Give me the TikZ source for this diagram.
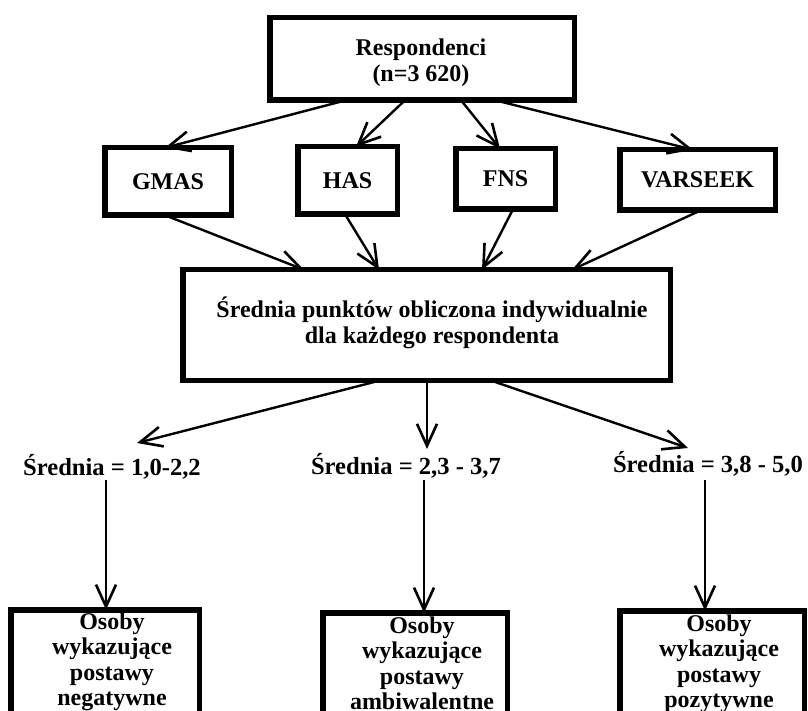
\documentclass[tikz,border=0pt]{standalone}
\usepackage{fontspec}
\setmainfont{Liberation Serif}
\usetikzlibrary{arrows.meta}

% multi-line centred text whose baseline is that of its first line
\newcommand\mlines[1]{\begin{tabular}[t]{@{}c@{}}#1\end{tabular}}

\tikzset{
  boxed/.style={draw, line width=5.5pt, inner sep=0pt, outer sep=0pt,
    font=\fontsize{24}{26}\selectfont\bfseries},
  txt/.style={inner sep=0pt, outer sep=0pt, anchor=base,
    font=\fontsize{24}{26}\selectfont\bfseries},
  rangetxt/.style={txt, font=\fontsize{24.6}{26}\selectfont\bfseries},
  tallt/.style={txt, font=\fontsize{24}{25.5}\selectfont\bfseries},
  conn/.style={line width=2.4pt,
    -{Straight Barb[length=22pt, width=20pt, line width=2.6pt]}},
}

\begin{document}
\begin{tikzpicture}[x=1pt, y=-1pt]
  \fill[white] (0,0) rectangle (808,711);
  \clip (0,0) rectangle (808,711);

  % source box
  \node[boxed, minimum width=304.5pt, minimum height=82.5pt] (top) at (422,59) {};
  \node[txt] (topt) at (421,56) {\mlines{Respondenci\\(n=3 620)}};

  % questionnaires
  \node[boxed, minimum width=126.5pt, minimum height=67.5pt] (gmas) at (168,181.5) {GMAS};
  \node[boxed, minimum width=99.5pt, minimum height=67.5pt] (has) at (347.5,180.5) {HAS};
  \node[boxed, minimum width=99.5pt, minimum height=60.5pt] (fns) at (505.5,179) {FNS};
  \node[boxed, minimum width=155.5pt, minimum height=60.5pt] (varseek) at (697.5,180) {VARSEEK};

  % averaging box
  \node[boxed, minimum width=487.5pt, minimum height=110.5pt] (mid) at (426.5,325) {};
  \node[txt] (midt) at (432,317) {\mlines{Średnia punktów obliczona indywidualnie\\dla każdego respondenta}};

  % score ranges
  \node[rangetxt] (l1) at (112,475) {Średnia = 1,0-2,2};
  \node[rangetxt] (l2) at (406,474) {Średnia = 2,3 - 3,7};
  \node[rangetxt] (l3) at (708,472) {Średnia = 3,8 - 5,0};

  % attitude groups
  \node[boxed, anchor=north, minimum width=188.5pt, minimum height=150pt] (b1) at (105,609.75) {};
  \node[boxed, anchor=north, minimum width=184.5pt, minimum height=150pt] (b2) at (415,612.75) {};
  \node[boxed, anchor=north, minimum width=184.5pt, minimum height=150pt] (b3) at (712,610.75) {};
  \node[tallt] (b1t) at (112,629) {\mlines{Osoby\\wykazujące\\postawy\\negatywne}};
  \node[tallt] (b2t) at (422,633) {\mlines{Osoby\\wykazujące\\postawy\\ambiwalentne}};
  \node[tallt] (b3t) at (719,631) {\mlines{Osoby\\wykazujące\\postawy\\pozytywne}};

  % respondents to questionnaires
  \draw[conn] ([xshift=-76pt]top.south) -- ([xshift=-3pt]gmas.north);
  \draw[conn] ([xshift=-17pt]top.south) -- ([xshift=8.5pt]has.north);
  \draw[conn] ([xshift=39pt]top.south) -- ([xshift=-5.5pt]fns.north);
  \draw[conn] ([xshift=73pt]top.south) -- ([xshift=-4.5pt]varseek.north);

  % questionnaires to average
  \draw[conn] ([xshift=-3pt]gmas.south) -- ([xshift=-122.5pt]mid.north);
  \draw[conn] ([xshift=-2.5pt]has.south) -- ([xshift=-47.5pt]mid.north);
  \draw[conn] ([xshift=7.5pt]fns.south) -- ([xshift=55.5pt]mid.north);
  \draw[conn] ([xshift=3.5pt]varseek.south) -- ([xshift=145.5pt]mid.north);

  % average to ranges
  \draw[conn] ([xshift=-45.5pt]mid.south) -- ([xshift=25pt, yshift=32pt]l1.base);
  \draw[conn] ([xshift=0.5pt]mid.south) -- ([xshift=21pt, yshift=25pt]l2.base);
  \draw[conn] ([xshift=63.5pt]mid.south) -- ([xshift=-20pt, yshift=24pt]l3.base);

  % ranges to groups
  \draw[conn] ([xshift=-6pt, yshift=-5pt]l1.base) -- ([xshift=1pt]b1.north);
  \draw[conn] ([xshift=18pt, yshift=-6pt]l2.base) -- ([xshift=9pt]b2.north);
  \draw[conn] ([xshift=-3pt, yshift=-8pt]l3.base) -- ([xshift=-7pt]b3.north);
\end{tikzpicture}
\end{document}
